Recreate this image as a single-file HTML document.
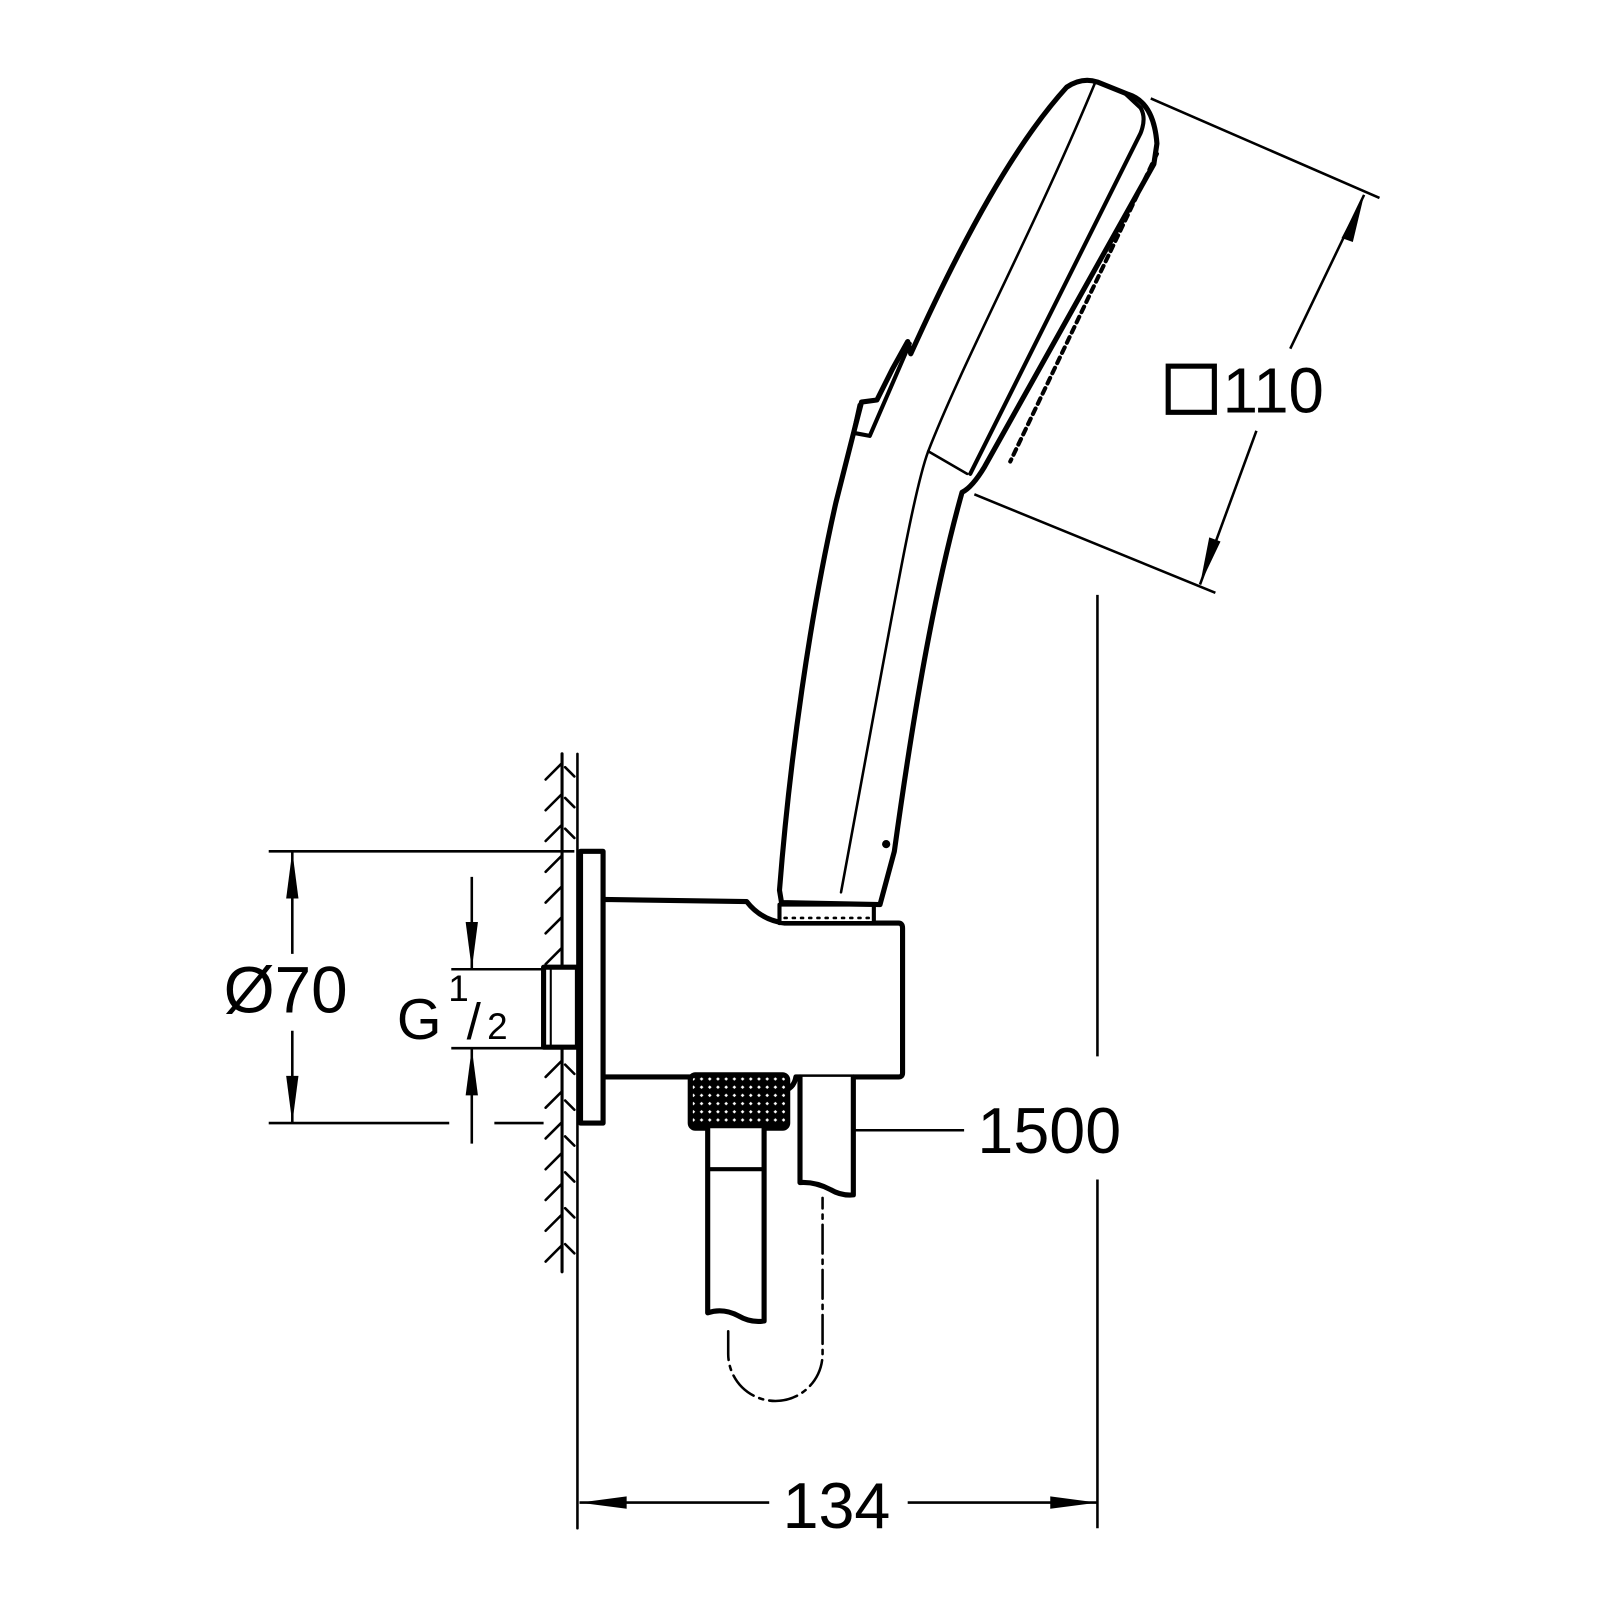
<!DOCTYPE html>
<html><head><meta charset="utf-8"><style>
html,body{margin:0;padding:0;background:#fff;width:1600px;height:1600px;overflow:hidden}
svg{display:block}
text{font-family:"Liberation Sans",Arial,sans-serif;fill:#000}
</style></head><body>
<svg width="1600" height="1600" viewBox="0 0 1560 1560" xmlns="http://www.w3.org/2000/svg">
<g fill="none" stroke="#000" stroke-linejoin="round" stroke-linecap="round">
<!-- wall -->
<line x1="548" y1="735" x2="548" y2="1240" stroke-width="3"/>
<line x1="563" y1="735" x2="563" y2="1490" stroke-width="2.5"/>
<g stroke-width="2.5">
<path d="M532 760l16-16M532 790l16-16M532 820l16-16M532 850l16-16M532 880l16-16M532 910l16-16M532 940l16-16M532 1050l16-16M532 1080l16-16M532 1110l16-16M532 1140l16-16M532 1170l16-16M532 1200l16-16M532 1230l16-16"/>
<path d="M551 748l9 9M551 778l9 9M551 808l9 9M551 1038l9 9M551 1073l9 9M551 1108l9 9M551 1143l9 9M551 1178l9 9M551 1213l9 9"/>
</g>
<!-- nipple -->
<rect x="530" y="943" width="33" height="78" stroke-width="5" fill="#fff"/>
<line x1="537" y1="943" x2="537" y2="1021" stroke-width="2"/>
<!-- plate -->
<rect x="566" y="830" width="22" height="265" stroke-width="5" fill="#fff"/>
<!-- body -->
<path d="M588 877 L728 879 Q742 897 765 900 L876 900 Q880 900 880 905 L880 1046 Q880 1050 876 1050 L776 1050 Q774 1062 762 1064 L740 1058 L692 1057 L692 1050 L588 1050 Z" stroke-width="5" fill="#fff"/>
<!-- knurl nut -->
<defs><pattern id="kn" width="8" height="8" patternUnits="userSpaceOnUse"><rect width="8" height="8" fill="#000"/><path d="M4 1.5L6.5 4L4 6.5L1.5 4Z" fill="#fff"/></pattern></defs>
<rect x="673" y="1048" width="95" height="52" rx="5" fill="url(#kn)" stroke-width="5"/>
<!-- hose left -->
<path d="M690 1100 L690 1280 Q705 1275 720 1283 Q732 1290 745 1288 L745 1100" stroke-width="5" fill="#fff"/>
<path d="M690 1140 L745 1140" stroke-width="4"/>
<!-- hose right -->
<path d="M780 1050 L780 1153 Q795 1152 810 1160 Q820 1166 832 1165 L832 1050" stroke-width="5" fill="#fff"/>
<path d="M710 1298 L710 1320 A46 46 0 0 0 802 1320 L802 1168" stroke-width="2.5" stroke-dasharray="28 6 4 6"/>
<!-- hose connector -->
<rect x="760" y="882" width="92" height="18" stroke-width="4" fill="#fff"/>
<line x1="765" y1="895" x2="848" y2="895" stroke-width="2.5" stroke-dasharray="2 6"/>
<!-- handshower -->
<path d="M762 880 L760 868 C770 740 790 600 815 490 L832 423 L840 392 L855 390 L870 360 L885 333 L888 345 C940 230 990 140 1040 85 Q1055 75 1070 80 L1100 92 Q1125 100 1128 140 L1125 160 L960 455 Q948 475 938 480 C910 580 890 700 872 830 L858 882 Z" stroke-width="5" fill="#fff"/>
<path d="M838 395 L832 422 L848 425 L887 335" stroke-width="4"/>
<path d="M1068 80 C1010 220 940 350 905 440 C890 480 870 600 820 870" stroke-width="2.5"/>
<path d="M905 440 L943 462" stroke-width="2.5"/>
<path d="M1098 92 L1112 105 Q1118 115 1112 130 L946 462" stroke-width="4"/>
<path d="M1128 150 L985 450" stroke-width="4" stroke-dasharray="6 5"/>
<circle cx="864" cy="823" r="4" fill="#000" stroke="none"/>
</g>
<!-- dimensions -->
<g stroke="#000" stroke-width="2.5" fill="none">
<line x1="262" y1="830" x2="560" y2="830"/>
<line x1="262" y1="1095" x2="438" y2="1095"/>
<line x1="482" y1="1095" x2="530" y2="1095"/>
<line x1="285" y1="830" x2="285" y2="930"/>
<line x1="285" y1="1005" x2="285" y2="1095"/>
<line x1="440" y1="945" x2="530" y2="945"/>
<line x1="440" y1="1022" x2="530" y2="1022"/>
<line x1="460" y1="855" x2="460" y2="945"/>
<line x1="460" y1="1022" x2="460" y2="1115"/>
<line x1="565" y1="1465" x2="750" y2="1465"/>
<line x1="885" y1="1465" x2="1070" y2="1465"/>
<line x1="1070" y1="580" x2="1070" y2="1030"/>
<line x1="1070" y1="1150" x2="1070" y2="1490"/>
<line x1="834" y1="1102" x2="940" y2="1102"/>
<line x1="1122" y1="96" x2="1345" y2="193"/>
<line x1="950" y1="482" x2="1185" y2="578"/>
<line x1="1330" y1="190" x2="1258" y2="340"/>
<line x1="1225" y1="420" x2="1170" y2="570"/>
</g>
<g fill="#000">
<path d="M285 830 L279 876 L291 876Z"/><path d="M285 1095 L279 1049 L291 1049Z"/>
<path d="M460 945 L454 899 L466 899Z"/><path d="M460 1022 L454 1068 L466 1068Z"/>
<path d="M565 1465 L611 1459 L611 1471Z"/><path d="M1070 1465 L1024 1459 L1024 1471Z"/>
<path d="M1330 190 L1308 232 L1319 236Z"/><path d="M1170 570 L1179 524 L1190 528Z"/>
</g>
<rect x="1139" y="357" width="45" height="45" fill="none" stroke="#000" stroke-width="5"/>
<text x="1192" y="402" font-size="62">110</text>
<text x="218" y="987" font-size="64">Ø70</text>
<text x="387" y="1013" font-size="56">G</text>
<text x="437" y="976" font-size="36">1</text>
<text x="455" y="1013" font-size="50">/</text>
<text x="475" y="1013" font-size="36">2</text>
<text x="953" y="1124" font-size="63">1500</text>
<text x="763" y="1490" font-size="63">134</text>
</svg>
</body></html>
